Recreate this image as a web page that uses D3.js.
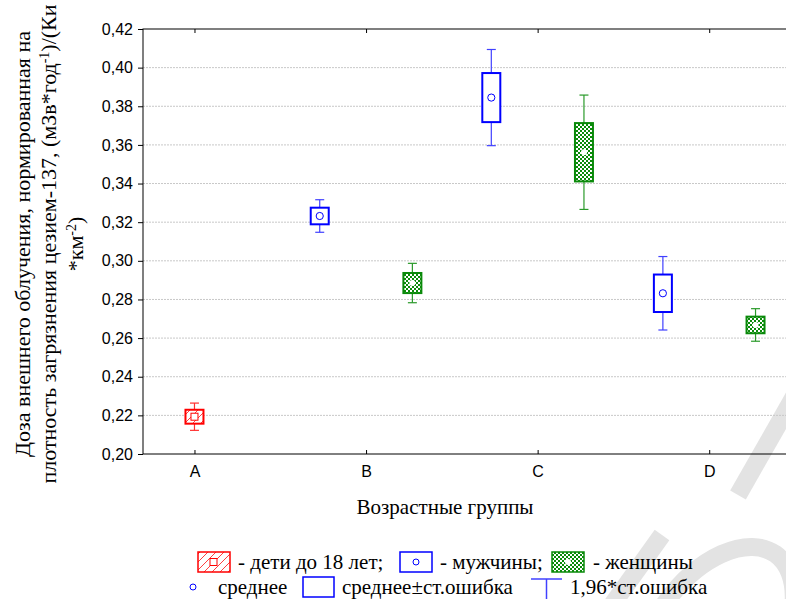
<!DOCTYPE html>
<html>
<head>
<meta charset="utf-8">
<script src="https://cdn.jsdelivr.net/npm/d3@7"></script>
<style>
  body { margin: 0; background: #fff; }
  svg { display: block; }
</style>
</head>
<body>
<svg width="786" height="599"></svg>
<script>
// age groups along x
var groups = ["A", "B", "C", "D"];

// mean and standard error per series (null = no value)
var childMean  = [0.2193, null, null, null];
var childSE    = [0.0036, null, null, null];
var menMean    = [null, 0.3232, 0.3845, 0.2832];
var menSE      = [null, 0.0043, 0.0127, 0.0097];
var womenMean  = [null, 0.2885, 0.3562, 0.2668];
var womenSE    = [null, 0.0052, 0.0151, 0.0043];

var yTicks = [0.20, 0.22, 0.24, 0.26, 0.28, 0.30, 0.32, 0.34, 0.36, 0.38, 0.40, 0.42];

var svg = d3.select("svg"),
    width = +svg.attr("width"),
    height = +svg.attr("height");

var pLeft = 143, pTop = 29, pBottom = 454, pRight = 795;

var x = d3.scaleLinear().domain([0.7, 4.5]).range([pLeft, pRight]);
var y = d3.scaleLinear().domain([0.20, 0.42]).range([pBottom, pTop]);

var fmt = function(d) { return d3.format(".2f")(d).replace(".", ","); };

var defs = svg.append("defs");

// checker fill for women
var chk = defs.append("pattern")
    .attr("id", "chk")
    .attr("patternUnits", "userSpaceOnUse")
    .attr("width", 4).attr("height", 4);
chk.append("rect").attr("width", 4).attr("height", 4).attr("fill", "#0a8a0a");
chk.append("rect").attr("x", 0).attr("y", 0).attr("width", 2).attr("height", 2).attr("fill", "#fff");
chk.append("rect").attr("x", 2).attr("y", 2).attr("width", 2).attr("height", 2).attr("fill", "#fff");

// diagonal hatch for children
var hatch = defs.append("pattern")
    .attr("id", "hatch")
    .attr("patternUnits", "userSpaceOnUse")
    .attr("width", 8).attr("height", 8);
hatch.append("rect").attr("width", 8).attr("height", 8).attr("fill", "#fff");
hatch.append("path").attr("d", "M0,8 L8,0").attr("stroke", "#ff4040").attr("stroke-width", 1);

// watermark strokes (light gray), behind everything
var wm = svg.append("g").attr("fill", "none").attr("stroke", "#e3e3e3").attr("stroke-width", 18);
wm.append("path").attr("d", "M612,605 L662,535");
wm.append("ellipse").attr("cx", 715).attr("cy", 640).attr("rx", 105).attr("ry", 62)
  .attr("transform", "rotate(-55,715,640)");
wm.append("path").attr("d", "M738,495 L795,395");

// grid
svg.append("g")
  .selectAll("line")
  .data(yTicks.slice(1, -1))
  .enter().append("line")
    .attr("x1", pLeft).attr("x2", pRight)
    .attr("y1", d => y(d)).attr("y2", d => y(d))
    .attr("stroke", "#c8c8c8")
    .attr("stroke-dasharray", "2,1");

// frame
svg.append("rect")
    .attr("x", pLeft).attr("y", pTop)
    .attr("width", pRight - pLeft).attr("height", pBottom - pTop)
    .attr("fill", "none").attr("stroke", "#000").attr("stroke-width", 1);

var sans = "Liberation Sans, Arial, sans-serif";

// y axis
var yAxis = svg.append("g")
    .attr("transform", "translate(" + pLeft + ",0)")
    .call(d3.axisLeft(y).tickValues(yTicks).tickFormat(fmt).tickSize(5).tickPadding(5));
yAxis.select(".domain").remove();
yAxis.selectAll("text").attr("font-family", sans).attr("font-size", 16).attr("fill", "#000");

// x axis (ticks inward at bottom and top)
var xAxis = svg.append("g")
    .attr("transform", "translate(0," + pBottom + ")")
    .call(d3.axisBottom(x).tickValues([1, 2, 3, 4]).tickFormat((d, i) => groups[i]).tickSize(-4).tickPadding(12));
xAxis.select(".domain").remove();
xAxis.selectAll("text").attr("font-family", sans).attr("font-size", 16).attr("fill", "#000");

var xTop = svg.append("g")
    .attr("transform", "translate(0," + pTop + ")")
    .call(d3.axisTop(x).tickValues([1, 2, 3, 4]).tickFormat("").tickSize(-4));
xTop.select(".domain").remove();

// boxes
var series = [
  {mean: childMean, se: childSE, off: 0, color: "#ff0000", whisk: "#ff3030", fill: "url(#hatch)", marker: "square"},
  {mean: menMean, se: menSE, off: -0.27, color: "#0000ff", whisk: "#4040ff", fill: "#fff", marker: "circle"},
  {mean: womenMean, se: womenSE, off: 0.27, color: "#0a8a0a", whisk: "#2a9a2a", fill: "url(#chk)", marker: "dot"}
];

var boxW = 18, capW = 9;

series.forEach(function(s) {
  var rows = s.mean.map((m, i) => ({i: i, m: m, se: s.se[i]})).filter(d => d.m != null);
  var g = svg.append("g");
  var cx = d => x(d.i + 1 + s.off);

  // whiskers
  g.selectAll(".wl").data(rows).enter().append("line")
      .attr("x1", cx).attr("x2", cx)
      .attr("y1", d => y(d.m + 1.96 * d.se)).attr("y2", d => y(d.m - 1.96 * d.se))
      .attr("stroke", s.whisk).attr("stroke-width", 1.2);
  [1, -1].forEach(function(sign) {
    g.selectAll(".cap" + sign).data(rows).enter().append("line")
        .attr("x1", d => cx(d) - capW / 2).attr("x2", d => cx(d) + capW / 2)
        .attr("y1", d => y(d.m + sign * 1.96 * d.se)).attr("y2", d => y(d.m + sign * 1.96 * d.se))
        .attr("stroke", s.whisk).attr("stroke-width", 1.2);
  });

  // box
  g.selectAll("rect").data(rows).enter().append("rect")
      .attr("x", d => cx(d) - boxW / 2)
      .attr("y", d => y(d.m + d.se))
      .attr("width", boxW)
      .attr("height", d => y(d.m - d.se) - y(d.m + d.se))
      .attr("fill", s.fill)
      .attr("stroke", s.color).attr("stroke-width", 2);

  // mean marker
  if (s.marker == "square") {
    g.selectAll(".mk").data(rows).enter().append("rect")
        .attr("x", d => cx(d) - 3.5).attr("y", d => y(d.m) - 3.5)
        .attr("width", 7).attr("height", 7)
        .attr("fill", "#fff").attr("stroke", s.color).attr("stroke-width", 1);
  } else if (s.marker == "circle") {
    g.selectAll(".mk").data(rows).enter().append("circle")
        .attr("cx", cx).attr("cy", d => y(d.m)).attr("r", 3.6)
        .attr("fill", "none").attr("stroke", s.color).attr("stroke-width", 1);
  } else {
    g.selectAll(".mk").data(rows).enter().append("circle")
        .attr("cx", cx).attr("cy", d => y(d.m)).attr("r", 3)
        .attr("fill", "#fff");
  }
});

// y title
var serif = "Liberation Serif, Times New Roman, serif";
var yt = svg.append("text")
    .attr("transform", "translate(0,244) rotate(-90)")
    .attr("text-anchor", "middle")
    .attr("font-family", serif).attr("font-size", 22).attr("fill", "#000");
yt.append("tspan").attr("x", 0).attr("y", 30).text("Доза внешнего облучения, нормированная на");
var l2 = yt.append("tspan").attr("x", 0).attr("y", 56);
l2.append("tspan").text("плотность загрязнения цезием-137, (мЗв*год");
l2.append("tspan").attr("dy", -7).attr("font-size", 14).text("-1");
l2.append("tspan").attr("dy", 7).text(")/(Ки");
var l3 = yt.append("tspan").attr("x", 0).attr("y", 83);
l3.append("tspan").text("*км");
l3.append("tspan").attr("dy", -7).attr("font-size", 14).text("-2");
l3.append("tspan").attr("dy", 7).text(")");

// x title
svg.append("text")
    .attr("x", 445).attr("y", 514)
    .attr("text-anchor", "middle")
    .attr("font-family", serif).attr("font-size", 21).attr("fill", "#000")
    .text("Возрастные группы");

// legend
var lg = svg.append("g").attr("font-family", serif).attr("font-size", 21).attr("fill", "#000");
function swatch(x0, y0, fill, color, marker) {
  lg.append("rect").attr("x", x0).attr("y", y0).attr("width", 32).attr("height", 20)
    .attr("fill", fill).attr("stroke", color).attr("stroke-width", 1.5);
  if (marker == "square")
    lg.append("rect").attr("x", x0 + 12).attr("y", y0 + 6.5).attr("width", 7).attr("height", 7)
      .attr("fill", "#fff").attr("stroke", color);
  else if (marker == "circle")
    lg.append("circle").attr("cx", x0 + 16).attr("cy", y0 + 10).attr("r", 3).attr("fill", "none").attr("stroke", color);
  else
    lg.append("circle").attr("cx", x0 + 16).attr("cy", y0 + 10).attr("r", 3).attr("fill", "#fff");
}
swatch(198, 552, "url(#hatch)", "#ff0000", "square");
lg.append("text").attr("x", 238).attr("y", 569).text("- дети до 18 лет;");
swatch(400, 552, "#fff", "#0000ff", "circle");
lg.append("text").attr("x", 440).attr("y", 569).text("- мужчины;");
swatch(552, 552, "url(#chk)", "#0a8a0a", "dot");
lg.append("text").attr("x", 593).attr("y", 569).text("- женщины");

lg.append("circle").attr("cx", 193).attr("cy", 587).attr("r", 3).attr("fill", "none").attr("stroke", "#0000ff");
lg.append("text").attr("x", 218).attr("y", 594).text("среднее");
lg.append("rect").attr("x", 303).attr("y", 577).attr("width", 31).attr("height", 20)
  .attr("fill", "#fff").attr("stroke", "#0000ff").attr("stroke-width", 1.5);
lg.append("text").attr("x", 342).attr("y", 594).text("среднее±ст.ошибка");
lg.append("line").attr("x1", 531).attr("x2", 562).attr("y1", 579).attr("y2", 579).attr("stroke", "#4040ff").attr("stroke-width", 1.5);
lg.append("line").attr("x1", 546.5).attr("x2", 546.5).attr("y1", 579).attr("y2", 599).attr("stroke", "#4040ff").attr("stroke-width", 1.5);
lg.append("text").attr("x", 570).attr("y", 594).text("1,96*ст.ошибка");
</script>
</body>
</html>
